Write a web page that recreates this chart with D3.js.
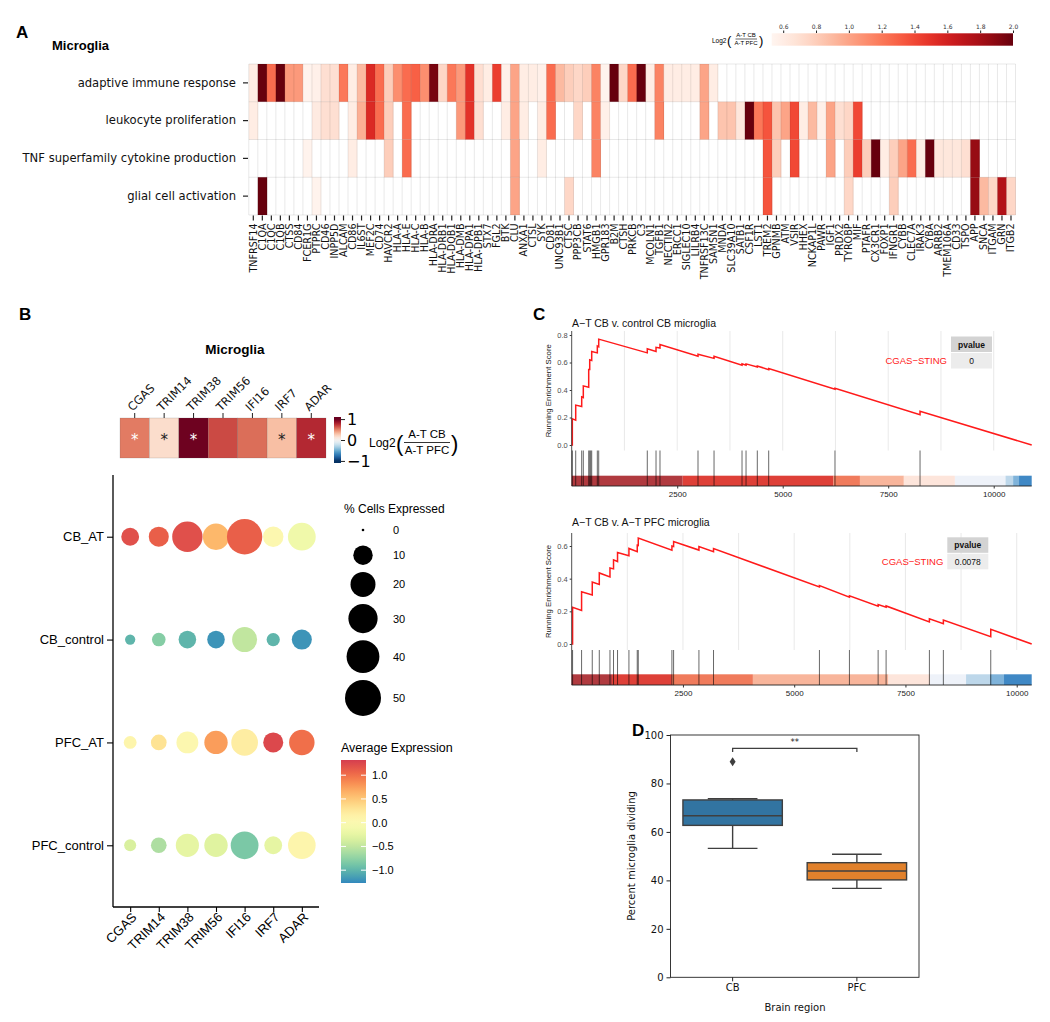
<!DOCTYPE html>
<html><head><meta charset="utf-8">
<script src="https://cdn.jsdelivr.net/npm/d3@7"></script>
<style>body{margin:0;background:#fff}</style>
</head><body>
<svg id="fig" width="1050" height="1022" xmlns="http://www.w3.org/2000/svg"></svg>
<script>
// ================= DATA =================
// Panel A
const genesA = ["TNFRSF14","C1QA","C1QC","C1QB","CTSS","CD84","FCER1G","PTPRC","CD46","INPP5D","ALCAM","CD86","IL6ST","MEF2C","CD74","HAVCR2","HLA-A","HLA-E","HLA-C","HLA-B","HLA-DRA","HLA-DRB1","HLA-DQB1","HLA-DMB","HLA-DPA1","HLA-DPB1","STX7","FGL2","BTK","CLU","ANXA1","CTSL","SYK","CD81","UNC93B1","CTSC","PPP3CB","STAT6","HMGB1","GPR183","B2M","CTSH","PRKCB","C3","MCOLN1","TGFB1","NECTIN2","ERCC1","SIGLEC10","LILRB4","TNFRSF13C","SAMSN1","MNDA","SLC39A10","SATB1","CSF1R","LST1","TREM2","GPNMB","ATM","VSIR","HHEX","NCKAP1L","PAWR","IGF1","PRDX2","TYROBP","MIF","PTAFR","CX3CR1","FOXP1","IFNGR1","CYBB","CLEC7A","IRAK3","CYBA","ARRB2","TMEM106A","CD33","TSPO","APP","SNCA","ITGAM","GRN","ITGB2"];
const goTerms = ["adaptive immune response","leukocyte proliferation","TNF superfamily cytokine production","glial cell activation"];
const adaptiveImmune = [["TNFRSF14",0.60],["C1QA",2.0],["C1QC",1.25],["C1QB",2.0],["CTSS",1.05],["CD84",1.05],["FCER1G",0.55],["PTPRC",0.57],["CD46",0.70],["INPP5D",0.70],["ALCAM",1.20],["CD86",0.60],["IL6ST",0.90],["MEF2C",1.55],["CD74",1.25],["HAVCR2",0.80],["HLA-A",1.10],["HLA-E",1.25],["HLA-C",1.30],["HLA-B",1.10],["HLA-DRA",1.95],["HLA-DRB1",0.75],["HLA-DQB1",1.20],["HLA-DMB",1.05],["HLA-DPA1",1.50],["HLA-DPB1",0.70],["STX7",0.60],["FGL2",1.45],["BTK",0.57],["CLU",1.00],["ANXA1",0.60],["CTSL",0.60],["SYK",0.57],["CD81",1.25],["UNC93B1",0.90],["CTSC",0.80],["PPP3CB",0.75],["STAT6",0.80],["HMGB1",1.15],["GPR183",0.55],["B2M",2.0],["CTSH",0.75],["PRKCB",1.25],["C3",2.0],["MCOLN1",0.60],["TGFB1",1.15],["NECTIN2",0.60],["ERCC1",0.60],["SIGLEC10",0.60],["LILRB4",0.60],["TNFRSF13C",1.00],["SAMSN1",0.60]];
const leukocyteProlif = [["TNFRSF14",0.60],["PTPRC",0.62],["CD46",0.70],["INPP5D",0.70],["CD86",0.60],["IL6ST",0.95],["MEF2C",1.55],["CD74",1.25],["HAVCR2",0.80],["HLA-E",1.25],["HLA-DMB",1.05],["HLA-DPA1",1.50],["HLA-DPB1",0.70],["BTK",0.60],["CLU",1.00],["ANXA1",0.60],["SYK",0.60],["CD81",1.25],["PPP3CB",0.75],["HMGB1",1.15],["GPR183",0.57],["TGFB1",1.15],["TNFRSF13C",1.00],["MNDA",0.85],["SLC39A10",0.85],["SATB1",0.65],["CSF1R",2.0],["LST1",1.20],["TREM2",1.35],["GPNMB",0.85],["ATM",1.00],["VSIR",1.40],["HHEX",0.60],["NCKAP1L",0.90],["PAWR",0.57],["IGF1",1.00],["PRDX2",0.70],["TYROBP",0.75],["MIF",1.40]];
const tnfCytokine = [["FCER1G",0.55],["CD86",0.60],["HAVCR2",0.80],["HLA-E",1.25],["CLU",1.00],["SYK",0.60],["HMGB1",1.15],["TREM2",1.35],["GPNMB",0.80],["VSIR",1.40],["IGF1",1.00],["TYROBP",0.80],["MIF",1.45],["PTAFR",0.80],["CX3CR1",2.0],["FOXP1",0.60],["IFNGR1",0.80],["CYBB",1.00],["CLEC7A",1.25],["IRAK3",0.60],["CYBA",2.0],["ARRB2",0.65],["TMEM106A",0.65],["CD33",0.65],["TSPO",0.70],["APP",1.85]];
const glialActivation = [["C1QA",2.0],["PTPRC",0.55],["CLU",1.00],["CTSC",0.75],["TREM2",1.35],["TYROBP",0.75],["IFNGR1",0.80],["APP",1.85],["SNCA",0.90],["ITGAM",0.75],["GRN",1.75],["ITGB2",0.75]];
const cbTicksA = [0.6,0.8,1.0,1.2,1.4,1.6,1.8,2.0];

// Panel B
const genesB = ["CGAS","TRIM14","TRIM38","TRIM56","IFI16","IRF7","ADAR"];
const log2fcB = [0.52,0.17,0.98,0.66,0.56,0.30,0.77];
const signifB = [true,true,true,false,false,true,true];
const groupsB = ["CB_AT","CB_control","PFC_AT","PFC_control"];
const pctExpr = [
  [7.8,11,33,23,48,11.6,26.4],
  [1.0,3.2,7.5,7.5,20,2.9,11],
  [2.6,5.2,14,16.8,23.8,11,21],
  [2.0,5.2,16.4,16.8,26.4,7.8,26]
];
const avgExpr = [
  [1.20,1.10,1.20,0.60,1.10,0.05,-0.15],
  [-1.00,-0.80,-1.00,-1.20,-0.50,-1.00,-1.20],
  [0.10,0.30,0.05,0.75,0.20,1.25,1.00],
  [-0.35,-0.60,-0.25,-0.30,-0.85,-0.25,0.10]
];
const pctLegend = [0,10,20,30,40,50];
const avgTicks = [-1.0,-0.5,0.0,0.5,1.0];

// Panel C
const gsea1Hits = [15,95,237,275,403,427,450,474,607,640,1791,1998,2092,2993,3373,4036,4131,4398,4668,6239,8254];
const gsea1Curve = [[0,0],[15,0],[15,0.19],[95,0.18],[95,0.29],[237,0.28],[237,0.35],[275,0.345],[275,0.43],[403,0.42],[403,0.55],[427,0.55],[427,0.62],[474,0.615],[474,0.68],[607,0.67],[607,0.72],[640,0.715],[640,0.77],[1791,0.67],[1791,0.70],[1998,0.68],[1998,0.71],[2092,0.705],[2092,0.73],[2993,0.645],[2993,0.66],[3373,0.63],[3373,0.645],[4036,0.58],[4036,0.59],[4131,0.58],[4131,0.59],[4398,0.567],[4398,0.575],[4668,0.548],[4668,0.556],[6239,0.405],[6239,0.412],[8254,0.22],[8254,0.245],[10900,0]];
const gsea1Bins = [0,2630,6200,6830,7870,9080,10280,10460,10600,10900];
const gsea2Hits = [20,222,462,620,860,940,1030,1286,1473,1496,2252,2290,2859,3187,5567,6241,6886,7065,8038,8352,9417];
const gsea2Curve = [[0,0],[20,0],[20,0.225],[222,0.205],[222,0.32],[462,0.30],[462,0.38],[620,0.365],[620,0.435],[860,0.41],[860,0.465],[940,0.46],[940,0.515],[1030,0.505],[1030,0.56],[1286,0.54],[1286,0.585],[1473,0.565],[1473,0.605],[1496,0.603],[1496,0.648],[2252,0.575],[2252,0.60],[2290,0.597],[2290,0.627],[2859,0.575],[2859,0.596],[3187,0.565],[3187,0.584],[5567,0.35],[5567,0.358],[6241,0.287],[6241,0.295],[6886,0.232],[6886,0.242],[7065,0.225],[7065,0.233],[8038,0.135],[8038,0.155],[8352,0.125],[8352,0.147],[9417,0.045],[9417,0.09],[10337,0]];
const gsea2Bins = [0,905,2252,4072,7117,8053,8862,9400,9715,10337];
const rankTicks = [2500,5000,7500,10000];
const rankGrid = [1250,2500,3750,5000,6250,7500,8750,10000];

// Panel D
const regionsD = ["CB","PFC"];
const boxStats = [
  {q1:62.7, med:66.7, q3:73.2, lo:53.2, hi:73.7, out:[89]},
  {q1:40.2, med:43.9, q3:47.3, lo:36.7, hi:50.8, out:[]}
];
const pctTicksD = [0,20,40,60,80,100];

// ================= STYLE =================
const SANS = "'Liberation Sans', Arial, sans-serif";
const DV = "'DejaVu Sans', sans-serif";
const binColors = ["#b03a3f","#de4038","#f07b5c","#f8b59b","#fde5db","#eef2f9","#bdd7ea","#7fb3da","#3f88c5"];
const spectral = ["#3288bd","#66c2a5","#abdda4","#e6f598","#ffffbf","#fee08b","#fdae61","#f46d43","#d53e4f"];

const svg = d3.select("#fig");
svg.append("rect").attr("width",1050).attr("height",1022).attr("fill","#fff");
const defs = svg.append("defs");

function letter(t,x,y){ svg.append("text").attr("x",x).attr("y",y).text(t)
  .attr("font-family",SANS).attr("font-weight","bold").attr("font-size",17); }
letter("A",16,38); letter("B",19,320); letter("C",533,320); letter("D",632,736);

// ================= PANEL A =================
(function(){
  const g = svg.append("g");
  const x = d3.scaleBand().domain(genesA).range([248.8,1015.5]);
  const y = d3.scaleBand().domain(goTerms).range([64,215]);
  const color = d3.scaleSequential(d3.interpolateReds).domain([0.53,2.0]);
  const rows = [adaptiveImmune, leukocyteProlif, tnfCytokine, glialActivation];
  g.append("text").attr("x",52).attr("y",50).text("Microglia")
    .attr("font-family",SANS).attr("font-weight","bold").attr("font-size",13);
  rows.forEach((arr,i)=>{
    g.selectAll(null).data(arr).enter().append("rect")
      .attr("x",d=>x(d[0])).attr("y",y(goTerms[i])).attr("width",x.bandwidth()+0.3)
      .attr("height",y.bandwidth()).attr("fill",d=>color(d[1]));
  });
  // grid
  const gl = g.append("g").attr("stroke","rgba(0,0,0,0.09)").attr("stroke-width",1);
  genesA.concat(["__end"]).forEach((gn,i)=>{
    const xx = gn==="__end" ? x.range()[1] : x(gn);
    gl.append("line").attr("x1",xx).attr("x2",xx).attr("y1",64).attr("y2",215);
  });
  goTerms.concat(["__end"]).forEach(t=>{
    const yy = t==="__end" ? 215 : y(t);
    gl.append("line").attr("x1",248.8).attr("x2",1015.5).attr("y1",yy).attr("y2",yy);
  });
  // axes
  const ax = g.append("g").attr("transform","translate(0,215.5)")
    .call(d3.axisBottom(x).tickSize(5).tickSizeOuter(0));
  ax.select(".domain").remove();
  ax.selectAll("line").attr("stroke","#222").attr("stroke-width",1.2);
  ax.selectAll("text").attr("transform","rotate(-90)").attr("x",-8).attr("y",0)
    .attr("dy","0.36em").attr("text-anchor","end")
    .attr("font-family",DV).attr("font-size",9.6).attr("fill","#111");
  const ay = g.append("g").attr("transform","translate(248,0)")
    .call(d3.axisLeft(y).tickSize(5).tickSizeOuter(0));
  ay.select(".domain").remove();
  ay.selectAll("line").attr("stroke","#222").attr("stroke-width",1.2);
  ay.selectAll("text").attr("x",-12).attr("font-family",DV).attr("font-size",11.6).attr("fill","#111");
  // colorbar
  const cx = d3.scaleLinear().domain([0.53,2.0]).range([771.7,1013]);
  const grad = defs.append("linearGradient").attr("id","gA");
  d3.range(0,1.0001,0.05).forEach(t=>grad.append("stop").attr("offset",t)
    .attr("stop-color",color(0.53+t*(2.0-0.53))));
  g.append("rect").attr("x",771.7).attr("y",33.3).attr("width",1013-771.7).attr("height",12.4).attr("fill","url(#gA)");
  const ac = g.append("g").attr("transform","translate(0,33)")
    .call(d3.axisTop(cx).tickValues(cbTicksA).tickSize(2.5).tickFormat(d3.format(".1f")));
  ac.select(".domain").remove();
  ac.selectAll("line").attr("stroke","#222");
  ac.selectAll("text").attr("font-family",DV).attr("font-size",6).attr("fill","#333").attr("y",-4);
  const lg = g.append("g").attr("font-family",SANS);
  lg.append("text").attr("x",712).attr("y",43).text("Log2").attr("font-size",6.5);
  lg.append("text").attr("x",727).attr("y",45).text("(").attr("font-size",13).attr("font-weight",300);
  lg.append("text").attr("x",746).attr("y",37.3).text("A-T CB").attr("font-size",6).attr("text-anchor","middle");
  lg.append("line").attr("x1",735.5).attr("x2",757).attr("y1",39).attr("y2",39).attr("stroke","#000").attr("stroke-width",0.6);
  lg.append("text").attr("x",746).attr("y",45).text("A-T PFC").attr("font-size",6).attr("text-anchor","middle");
  lg.append("text").attr("x",759).attr("y",45).text(")").attr("font-size",13).attr("font-weight",300);
})();

// ================= PANEL B =================
(function(){
  const g = svg.append("g");
  g.append("text").attr("x",235).attr("y",354).attr("text-anchor","middle").text("Microglia")
    .attr("font-family",SANS).attr("font-weight","bold").attr("font-size",13.5);
  const x = d3.scaleBand().domain(genesB).range([120,326]);
  const col = d3.scaleDiverging(t=>d3.interpolateRdBu(1-t)).domain([-1,0,1]);
  g.selectAll(null).data(genesB).enter().append("rect")
    .attr("x",d=>x(d)).attr("y",418).attr("width",x.bandwidth()).attr("height",40)
    .attr("fill",(d,i)=>col(log2fcB[i])).attr("stroke","rgba(90,90,90,0.35)").attr("stroke-width",0.5);
  g.selectAll(null).data(genesB).enter().filter((d,i)=>signifB[i]).append("text")
    .attr("x",d=>x(d)+x.bandwidth()/2).attr("y",445).attr("text-anchor","middle")
    .text("*").attr("font-family",DV).attr("font-size",15)
    .attr("fill",d=>{const v=log2fcB[genesB.indexOf(d)]; return v>0.45?"#fff":"#222";});
  const ax = g.append("g").attr("transform","translate(0,418)")
    .call(d3.axisTop(x).tickSize(5).tickSizeOuter(0));
  ax.select(".domain").remove();
  ax.selectAll("line").attr("stroke","#222");
  ax.selectAll("text").attr("transform","rotate(-45)").attr("x",3).attr("y",-6).attr("dy","0em")
    .attr("text-anchor","start").attr("font-family",DV).attr("font-size",11.5).attr("fill","#111");
  // colorbar
  const cy = d3.scaleLinear().domain([1.1,-1.1]).range([417,463]);
  const grad = defs.append("linearGradient").attr("id","gB").attr("x1",0).attr("x2",0).attr("y1",0).attr("y2",1);
  d3.range(0,1.0001,0.05).forEach(t=>grad.append("stop").attr("offset",t).attr("stop-color",col(1.1-2.2*t)));
  g.append("rect").attr("x",334).attr("y",417).attr("width",7).attr("height",46).attr("fill","url(#gB)");
  const ac = g.append("g").attr("transform","translate(341,0)")
    .call(d3.axisRight(cy).tickValues([-1,0,1]).tickSize(4).tickFormat(d=>d<0?"\u2212"+Math.abs(d):d));
  ac.select(".domain").remove();
  ac.selectAll("line").attr("stroke","#222");
  ac.selectAll("text").attr("font-family",DV).attr("font-size",16).attr("x",6);
  const lg = g.append("g").attr("font-family",SANS);
  lg.append("text").attr("x",369).attr("y",447).text("Log2").attr("font-size",12);
  lg.append("text").attr("x",396).attr("y",451).text("(").attr("font-size",22).attr("font-weight",300);
  lg.append("text").attr("x",427).attr("y",438).text("A-T CB").attr("font-size",11.5).attr("text-anchor","middle");
  lg.append("line").attr("x1",404).attr("x2",450).attr("y1",442.5).attr("y2",442.5).attr("stroke","#000").attr("stroke-width",0.8);
  lg.append("text").attr("x",427).attr("y",454).text("A-T PFC").attr("font-size",11.5).attr("text-anchor","middle");
  lg.append("text").attr("x",451).attr("y",451).text(")").attr("font-size",22).attr("font-weight",300);

  // dot plot
  const xd = d3.scalePoint().domain(genesB).range([113,319]).padding(0.6);
  const yd = d3.scalePoint().domain(groupsB).range([475,907]).padding(0.6);
  const r = d3.scaleSqrt().domain([-2,50]).range([0,18]).clamp(true);
  const ce = d3.scaleSequential(d3.interpolateRgbBasis(spectral)).domain([-1.27,1.32]);
  groupsB.forEach((grp,i)=>{
    g.selectAll(null).data(genesB).enter().append("circle")
      .attr("cx",d=>xd(d)).attr("cy",yd(grp))
      .attr("r",(d,j)=>r(pctExpr[i][j])).attr("fill",(d,j)=>ce(avgExpr[i][j]));
  });
  const axx = g.append("g").attr("transform","translate(0,907)")
    .call(d3.axisBottom(xd).tickSize(5).tickSizeOuter(0));
  axx.select(".domain").attr("d","M113,0H319").attr("stroke","#000").attr("stroke-width",1.3);
  axx.selectAll("line").attr("stroke","#000").attr("stroke-width",1.1);
  axx.selectAll("text").attr("transform","rotate(-45)").attr("x",-3).attr("y",8).attr("dy","0.35em")
    .attr("text-anchor","end").attr("font-family",SANS).attr("font-size",13).attr("fill","#000");
  const axy = g.append("g").attr("transform","translate(113,0)")
    .call(d3.axisLeft(yd).tickSize(6).tickSizeOuter(0));
  axy.select(".domain").attr("d","M0,475V907").attr("stroke","#000").attr("stroke-width",1.3);
  axy.selectAll("line").attr("stroke","#000").attr("stroke-width",1.1);
  axy.selectAll("text").attr("x",-9).attr("font-family",SANS).attr("font-size",13).attr("fill","#000");
  // size legend
  const sl = g.append("g").attr("font-family",SANS);
  sl.append("text").attr("x",344).attr("y",513).text("% Cells Expressed").attr("font-size",12);
  let yy = 530, prevH = null;
  pctLegend.forEach((p,i)=>{
    const h = Math.max(2*r(p)+7,24);
    if(prevH!==null) yy += (prevH+h)/2;
    prevH = h;
    sl.append("circle").attr("cx",363).attr("cy",yy).attr("r",p===0?1.3:r(p)).attr("fill","#000");
    sl.append("text").attr("x",393).attr("y",yy+4).text(p).attr("font-size",11);
  });
  // color legend
  sl.append("text").attr("x",341).attr("y",752).text("Average Expression").attr("font-size",12.5);
  const cyy = d3.scaleLinear().domain([1.32,-1.27]).range([760,883]);
  const grad2 = defs.append("linearGradient").attr("id","gE").attr("x1",0).attr("x2",0).attr("y1",0).attr("y2",1);
  d3.range(0,1.0001,0.05).forEach(t=>grad2.append("stop").attr("offset",t).attr("stop-color",ce(cyy.invert(760+t*123))));
  sl.append("rect").attr("x",341).attr("y",760).attr("width",25).attr("height",123).attr("fill","url(#gE)");
  avgTicks.forEach(v=>{
    sl.append("line").attr("x1",341).attr("x2",346).attr("y1",cyy(v)).attr("y2",cyy(v)).attr("stroke","#fff").attr("stroke-width",1);
    sl.append("line").attr("x1",361).attr("x2",366).attr("y1",cyy(v)).attr("y2",cyy(v)).attr("stroke","#fff").attr("stroke-width",1);
    sl.append("text").attr("x",372).attr("y",cyy(v)+4).attr("font-size",11)
      .text((v<0?"\u2212":"")+Math.abs(v).toFixed(1));
  });
})();

// ================= PANEL C =================
function gsea(cfg){
  const g = svg.append("g").attr("font-family",SANS);
  const x = d3.scaleLinear().domain([0,cfg.maxRank]).range([571.7,1031.7]);
  const y = d3.scaleLinear().domain([0,cfg.esRef]).range([cfg.y0,cfg.yRef]);
  g.append("text").attr("x",572).attr("y",cfg.titleY).text(cfg.title).attr("font-size",10.5).attr("fill","#111");
  // gridlines
  rankGrid.filter(v=>v<=cfg.maxRank).forEach(v=>g.append("line").attr("x1",x(v)).attr("x2",x(v))
    .attr("y1",cfg.top).attr("y2",cfg.bot).attr("stroke","#e6e6e6").attr("stroke-width",0.9));
  // curve
  g.append("path").datum(cfg.curve)
    .attr("d",d3.line().x(d=>x(d[0])).y(d=>y(d[1])))
    .attr("fill","none").attr("stroke","#ff1a1a").attr("stroke-width",1.5);
  // y axis
  const ay = g.append("g").attr("transform","translate(571.7,0)")
    .call(d3.axisLeft(y).tickValues(cfg.esTicks).tickSize(2).tickFormat(d3.format(".1f")));
  ay.select(".domain").attr("d",`M0,${cfg.top}V${cfg.barBot}`).attr("stroke","#222").attr("stroke-width",0.8);
  ay.selectAll("line").attr("stroke","#333");
  ay.selectAll("text").attr("font-size",7.5).attr("fill","#4d4d4d").attr("x",-4);
  g.append("text").attr("transform",`translate(551,${(cfg.top+cfg.bot)/2}) rotate(-90)`)
    .attr("text-anchor","middle").text("Running Enrichment Score").attr("font-size",7.8).attr("fill","#111");
  // color bins
  for(let i=0;i<cfg.bins.length-1;i++){
    g.append("rect").attr("x",x(cfg.bins[i])).attr("width",x(cfg.bins[i+1])-x(cfg.bins[i]))
      .attr("y",cfg.barTop).attr("height",cfg.barBot-cfg.barTop).attr("fill",binColors[i]);
  }
  // hits
  g.selectAll(null).data(cfg.hits).enter().append("line")
    .attr("x1",d=>x(d)).attr("x2",d=>x(d)).attr("y1",cfg.bot).attr("y2",cfg.barBot)
    .attr("stroke","rgba(0,0,0,0.75)").attr("stroke-width",0.8);
  // x axis
  const ax = g.append("g").attr("transform",`translate(0,${cfg.barBot})`)
    .call(d3.axisBottom(x).tickValues(rankTicks).tickSize(2.5).tickFormat(d3.format("d")));
  ax.select(".domain").attr("d","M571.7,0H1031.7").attr("stroke","#222").attr("stroke-width",0.9);
  ax.selectAll("line").attr("stroke","#333");
  ax.selectAll("text").attr("font-size",8).attr("fill","#1a1a1a").attr("y",5);
  // pvalue table
  g.append("rect").attr("x",cfg.tabX).attr("y",cfg.tabY).attr("width",41).attr("height",15.5).attr("fill","#d3d3d3");
  g.append("rect").attr("x",cfg.tabX).attr("y",cfg.tabY+16.5).attr("width",41).attr("height",15.5).attr("fill","#ececec");
  g.append("text").attr("x",cfg.tabX+20.5).attr("y",cfg.tabY+11).attr("text-anchor","middle")
    .text("pvalue").attr("font-size",8.5).attr("font-weight","bold").attr("fill","#111");
  g.append("text").attr("x",cfg.tabX+20.5).attr("y",cfg.tabY+27.5).attr("text-anchor","middle")
    .text(cfg.pval).attr("font-size",8.5).attr("fill","#111");
  g.append("text").attr("x",cfg.tabX-4).attr("y",cfg.tabY+27.5).attr("text-anchor","end")
    .text("CGAS\u2212STING").attr("font-size",9.5).attr("fill","#ff1a1a");
}
gsea({title:"A\u2212T CB v. control CB microglia", titleY:327, maxRank:10900, hits:gsea1Hits, curve:gsea1Curve, bins:gsea1Bins,
  esRef:0.8, y0:445, yRef:335, esTicks:[0,0.2,0.4,0.6,0.8], top:331, bot:450.5, barTop:475.7, barBot:486,
  tabX:951, tabY:336.5, pval:"0"});
gsea({title:"A\u2212T CB v. A\u2212T PFC microglia", titleY:526, maxRank:10337, hits:gsea2Hits, curve:gsea2Curve, bins:gsea2Bins,
  esRef:0.6, y0:644, yRef:546, esTicks:[0,0.2,0.4,0.6], top:533, bot:650, barTop:674.3, barBot:685,
  tabX:947.3, tabY:537.3, pval:"0.0078"});

// ================= PANEL D =================
(function(){
  const g = svg.append("g").attr("font-family",DV);
  const x = d3.scaleBand().domain(regionsD).range([670.5,919]);
  const y = d3.scaleLinear().domain([0,100]).range([977.3,735]);
  const fills = ["#3274a1","#e1812c"];
  const lc = "#3f3f3f";
  regionsD.forEach((rg,i)=>{
    const s = boxStats[i], cx = x(rg)+x.bandwidth()/2, bw = x.bandwidth()*0.8, cw = x.bandwidth()*0.4;
    g.append("line").attr("x1",cx).attr("x2",cx).attr("y1",y(s.q3)).attr("y2",y(s.hi)).attr("stroke",lc).attr("stroke-width",1.4);
    g.append("line").attr("x1",cx).attr("x2",cx).attr("y1",y(s.q1)).attr("y2",y(s.lo)).attr("stroke",lc).attr("stroke-width",1.4);
    g.append("line").attr("x1",cx-cw/2).attr("x2",cx+cw/2).attr("y1",y(s.hi)).attr("y2",y(s.hi)).attr("stroke",lc).attr("stroke-width",1.4);
    g.append("line").attr("x1",cx-cw/2).attr("x2",cx+cw/2).attr("y1",y(s.lo)).attr("y2",y(s.lo)).attr("stroke",lc).attr("stroke-width",1.4);
    g.append("rect").attr("x",cx-bw/2).attr("width",bw).attr("y",y(s.q3)).attr("height",y(s.q1)-y(s.q3))
      .attr("fill",fills[i]).attr("stroke",lc).attr("stroke-width",1.4);
    g.append("line").attr("x1",cx-bw/2).attr("x2",cx+bw/2).attr("y1",y(s.med)).attr("y2",y(s.med)).attr("stroke",lc).attr("stroke-width",1.4);
    s.out.forEach(o=>g.append("path").attr("d",`M${cx},${y(o)-4.5}L${cx+3},${y(o)}L${cx},${y(o)+4.5}L${cx-3},${y(o)}Z`).attr("fill",lc));
  });
  // frame
  g.append("rect").attr("x",670.5).attr("y",735).attr("width",919-670.5).attr("height",977.3-735)
    .attr("fill","none").attr("stroke","#222").attr("stroke-width",0.9);
  const ay = g.append("g").attr("transform","translate(670.5,0)")
    .call(d3.axisLeft(y).tickValues(pctTicksD).tickSize(4));
  ay.select(".domain").remove();
  ay.selectAll("line").attr("stroke","#222");
  ay.selectAll("text").attr("font-family",DV).attr("font-size",10).attr("fill","#111");
  const ax = g.append("g").attr("transform","translate(0,977.3)")
    .call(d3.axisBottom(x).tickSize(4));
  ax.select(".domain").remove();
  ax.selectAll("line").attr("stroke","#222");
  ax.selectAll("text").attr("font-family",DV).attr("font-size",10).attr("fill","#111").attr("y",7);
  g.append("text").attr("x",795).attr("y",1011).attr("text-anchor","middle").text("Brain region").attr("font-size",10).attr("fill","#111");
  g.append("text").attr("transform","translate(635,856) rotate(-90)").attr("text-anchor","middle")
    .text("Percent microglia dividing").attr("font-size",10).attr("fill","#111");
  // significance bracket
  const x1 = x("CB")+x.bandwidth()/2, x2 = x("PFC")+x.bandwidth()/2;
  g.append("path").attr("d",`M${x1},752V748.3H${x2}V752`).attr("fill","none").attr("stroke",lc).attr("stroke-width",1.3);
  g.append("text").attr("x",(x1+x2)/2).attr("y",745).attr("text-anchor","middle").text("**").attr("font-size",8.5).attr("fill","#222");
})();
</script>
</body></html>
